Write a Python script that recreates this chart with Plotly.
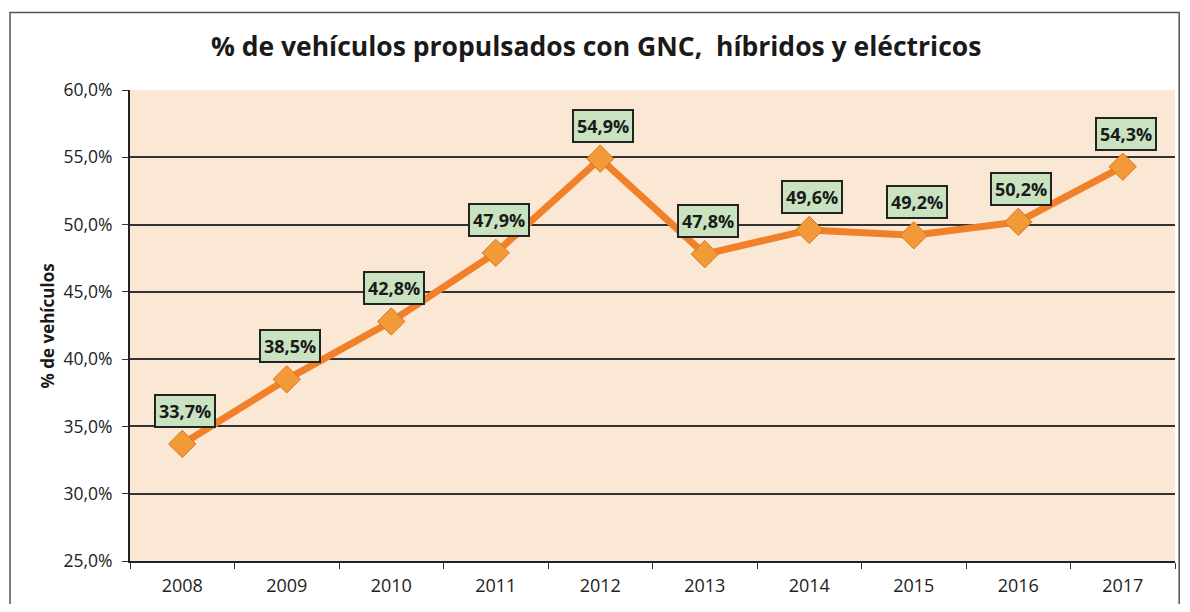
import plotly.graph_objects as go

years = ["2008", "2009", "2010", "2011", "2012", "2013", "2014", "2015", "2016", "2017"]
values = [33.7, 38.5, 42.8, 47.9, 54.9, 47.8, 49.6, 49.2, 50.2, 54.3]
y_ticks = [25, 30, 35, 40, 45, 50, 55, 60]

title_text = "% de vehículos propulsados con GNC,  híbridos y eléctricos"
y_title = "% de vehículos"

FONT = "Open Sans"


def pct(v):
    return f"{v:.1f}".replace(".", ",") + "%"


# page body has an 8px margin, so the figure is 16px smaller and offset
W, H = 1174, 596

fig = go.Figure()
fig.add_trace(go.Scatter(
    x=years, y=values, mode="lines+markers",
    line=dict(color="#f0802a", width=7),
    marker=dict(symbol="diamond", size=21, color="#f29a38",
                line=dict(color="#d9741f", width=1)),
    hoverinfo="skip", showlegend=False,
))

for i, v in enumerate(values):
    fig.add_annotation(
        x=i, y=v, xref="x", yref="y",
        text="<b>" + pct(v) + "</b>",
        showarrow=False, yshift=33, xshift=3,
        font=dict(family=FONT, size=18, color="#1a1a1a"),
        bgcolor="#c9e3c1", bordercolor="#222222", borderwidth=2, borderpad=3,
    )

# y-axis title placed as paper-referenced rotated text
fig.add_annotation(
    x=-0.0785, y=0.5, xref="paper", yref="paper",
    text="<b>" + y_title + "</b>", textangle=-90, showarrow=False,
    xanchor="center", yanchor="middle",
    font=dict(family=FONT, size=17, color="#1a1a1a"),
)

fig.update_layout(
    width=W, height=H,
    margin=dict(l=122, r=7, t=82, b=40),
    paper_bgcolor="white",
    plot_bgcolor="#fbe8d4",
    shapes=[dict(type="rect", xref="paper", yref="paper",
                 x0=-0.1148, x1=1.004, y0=-0.0928, y1=1.1646,
                 line=dict(color="#555555", width=1.5), layer="below")],
    title=dict(text="<b>" + title_text + "</b>", x=0.501, xanchor="center",
               y=0.935, yanchor="middle",
               font=dict(family=FONT, size=26.5, color="#1a1a1a")),
    xaxis=dict(
        type="category", tickson="boundaries", ticks="outside", ticklen=6,
        tickcolor="#333333", showline=True, linecolor="#222222", linewidth=2,
        showgrid=False, tickfont=dict(family=FONT, size=18, color="#222222"),
        ticklabelstandoff=7,
        range=[-0.5, 9.5],
    ),
    yaxis=dict(
        range=[25, 60], tickmode="array", tickvals=y_ticks,
        ticktext=[pct(t) for t in y_ticks],
        ticks="outside", ticklen=6, tickcolor="#333333",
        showline=True, linecolor="#222222", linewidth=2,
        showgrid=True, gridcolor="#333333", gridwidth=1.5, zeroline=False,
        tickfont=dict(family=FONT, size=17.5, color="#222222"),
        ticklabelstandoff=6,
    ),
)

fig.write_html("out.html")
